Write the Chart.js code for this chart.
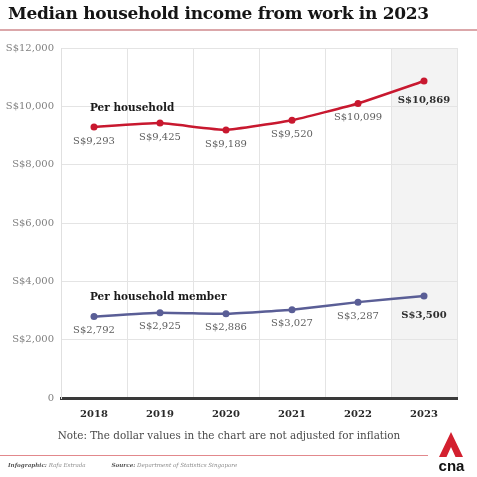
<!DOCTYPE html>
<html>
<head>
<meta charset="utf-8">
<script src="https://cdn.jsdelivr.net/npm/chart.js@4.4.1/dist/chart.umd.min.js"></script>
<style>
  html, body { margin: 0; padding: 0; background: #fff; }
  #wrap { position: relative; width: 477px; height: 477px; overflow: hidden; font-family: "DejaVu Serif", serif; }
  #chart { position: absolute; left: 0; top: 0; }
  .title { position: absolute; left: 8px; top: 3px; font-weight: bold; font-size: 17px; color: #151515; white-space: nowrap; letter-spacing: -0.3px; }
  .rule-top { position: absolute; left: 0; top: 29px; width: 477px; height: 2px; background: #dba7aa; }
  .note { position: absolute; left: 0; width: 458px; top: 429px; text-align: center; font-size: 10.4px; color: #4a4a4a; white-space: nowrap; }
  .rule-bottom { position: absolute; left: 0; top: 455px; width: 428px; height: 1px; background: #e2888c; }
  .credits { position: absolute; left: 8px; top: 462px; font-size: 5.6px; color: #8c8c8c; font-style: italic; white-space: nowrap; }
  .credits b { color: #555; }
  .logo { position: absolute; left: 434px; top: 431px; }
</style>
</head>
<body>
<div id="wrap">
  <canvas id="chart" width="477" height="477"></canvas>
  <div class="title">Median household income from work in 2023</div>
  <div class="rule-top"></div>
  <div class="note">Note: The dollar values in the chart are not adjusted for inflation</div>
  <div class="rule-bottom"></div>
  <div class="credits"><b>Infographic:</b> Rafa Estrada <span style="display:inline-block;width:24px"></span><b>Source:</b> Department of Statistics Singapore</div>
  <svg class="logo" width="40" height="44" viewBox="0 0 40 44">
    <path d="M17 1 L29 26 L21.5 26 L17 16 L12.5 26 L5 26 Z" fill="#d3202f"/>
    <text x="17.5" y="40" text-anchor="middle" font-family="Liberation Sans, Arial, sans-serif" font-weight="bold" font-size="15" fill="#111">cna</text>
  </svg>
</div>
<script>
// Years on the horizontal axis
const years = ['2018', '2019', '2020', '2021', '2022', '2023'];
// Median monthly household income from work (S$)
const perHousehold = [9293, 9425, 9189, 9520, 10099, 10869];
// Median monthly income from work per household member (S$)
const perMember = [2792, 2925, 2886, 3027, 3287, 3500];
// Vertical axis ticks
const yTicks = [0, 2000, 4000, 6000, 8000, 10000, 12000];
const seriesNames = ['Per household', 'Per household member'];

const RED = '#c8182f';
const BLUE = '#5a5e96';
const SERIF = '"DejaVu Serif", serif';

const money = v => v === 0 ? '0' : 'S$' + v.toLocaleString('en-US');

// Shade the most recent year's column
const shadeLast = {
  id: 'shadeLast',
  beforeDraw(chart) {
    const { ctx, chartArea, scales } = chart;
    const x = scales.x;
    const half = (x.getPixelForValue(1) - x.getPixelForValue(0)) / 2;
    const left = x.getPixelForValue(years.length - 1) - half;
    ctx.save();
    ctx.fillStyle = '#f3f3f3';
    ctx.fillRect(left, chartArea.top, chartArea.right - left, chartArea.bottom - chartArea.top);
    ctx.restore();
  }
};

// Value labels under each point plus series names above the lines
const labels = {
  id: 'valueLabels',
  afterDatasetsDraw(chart) {
    const { ctx } = chart;
    ctx.save();
    ctx.textBaseline = 'middle';
    chart.data.datasets.forEach((ds, di) => {
      const meta = chart.getDatasetMeta(di);
      ctx.textAlign = 'center';
      meta.data.forEach((pt, i) => {
        const last = i === ds.data.length - 1;
        ctx.font = (last ? 'bold ' : '') + '10px ' + SERIF;
        ctx.fillStyle = last ? '#2e2e2e' : '#5e5e5e';
        ctx.fillText(money(ds.data[i]), pt.x, pt.y + (last ? 19 : 14));
      });
      const first = meta.data[0];
      ctx.textAlign = 'left';
      ctx.font = 'bold 10.5px ' + SERIF;
      ctx.fillStyle = '#1a1a1a';
      ctx.fillText(seriesNames[di], first.x - 4, first.y - 19);
    });
    ctx.restore();
  }
};

new Chart(document.getElementById('chart'), {
  type: 'line',
  data: {
    labels: years,
    datasets: [
      { data: perHousehold, borderColor: RED, backgroundColor: RED, borderWidth: 2.5, pointRadius: 3.5, pointBorderWidth: 0, tension: 0.1 },
      { data: perMember, borderColor: BLUE, backgroundColor: BLUE, borderWidth: 2.5, pointRadius: 3.5, pointBorderWidth: 0, tension: 0.1 }
    ]
  },
  options: {
    responsive: false,
    animation: false,
    layout: { padding: { top: 48, right: 20, bottom: 54, left: 0 } },
    plugins: { legend: { display: false }, tooltip: { enabled: false } },
    scales: {
      x: {
        offset: true,
        grid: { offset: true, color: '#e4e4e4', drawTicks: false },
        border: { color: '#3a3a3a', width: 3 },
        ticks: { padding: 10, color: '#2a2a2a', font: { family: SERIF, size: 10, weight: 'bold' } },
        afterFit(s) { s.height = 25; }
      },
      y: {
        min: 0, max: 12000,
        afterBuildTicks(s) { s.ticks = yTicks.map(v => ({ value: v })); },
        grid: { color: '#e4e4e4', drawTicks: false },
        border: { color: '#e0e0e0', width: 1 },
        ticks: { padding: 7, color: '#808080', font: { family: SERIF, size: 10 }, callback: v => money(v) },
        afterFit(s) { s.width = 61; }
      }
    }
  },
  plugins: [shadeLast, labels]
});
</script>
</body>
</html>
